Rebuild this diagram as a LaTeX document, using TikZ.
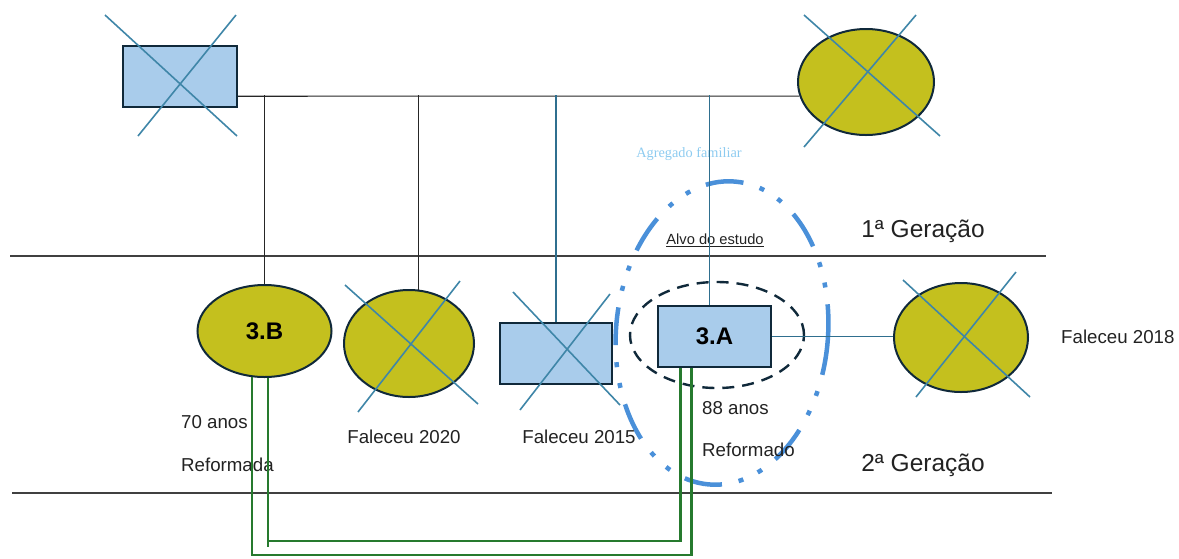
\documentclass[tikz,border=0pt]{standalone}
\usepackage{fontspec}
\setmainfont{Liberation Sans}
\newfontfamily\serifface{Liberation Serif}
\usetikzlibrary{shapes.geometric}
\definecolor{boxfill}{HTML}{A9CCEB}
\definecolor{ovalfill}{HTML}{C4C01E}
\definecolor{edge}{HTML}{10293A}
\definecolor{xline}{HTML}{3F86A8}
\definecolor{tealline}{HTML}{2F6F8F}
\definecolor{kin}{HTML}{267A2E}
\definecolor{household}{HTML}{4A90D9}
\definecolor{householdtxt}{HTML}{8DCBF0}
\definecolor{ink}{HTML}{222222}
\begin{document}
\begin{tikzpicture}[x=1pt,y=-1pt,
  male/.style={draw=edge, line width=2.4pt, fill=boxfill, rectangle, inner sep=0pt},
  female/.style={draw=edge, line width=2pt, fill=ovalfill, ellipse, inner sep=0pt},
  deadx/.style={xline, line width=1.6pt},
  tie/.style={line width=1.1pt, draw=black!85},
  tietl/.style={line width=1.1pt, draw=tealline},
  grn/.style={kin, line width=2.4pt},
  lbl/.style={text=ink, font=\fontsize{18.7}{22}\selectfont, inner sep=0pt},
  gen/.style={text=ink, font=\fontsize{24.5}{28}\selectfont, inner sep=0pt},
  idtxt/.style={font=\bfseries\fontsize{24}{28}\selectfont, text=black},
  genline/.style={line width=1.4pt, draw=black!75}
]
\useasboundingbox (0,0) rectangle (1179,558);

% generation separators
\coordinate (s1a) at (10,256);  \coordinate (s1b) at (1046,256);
\coordinate (s2a) at (12,493);  \coordinate (s2b) at (1052,493);
\draw[genline] (s1a) -- (s1b);
\draw[genline] (s2a) -- (s2b);
\node[gen] (g1) at (923,231) {1ª Geração};
\node[gen] (g2) at (923,465) {2ª Geração};

% household grouping
\node[draw=household, line width=4.5pt, ellipse, minimum width=212pt, minimum height=304pt,
      rotate=-5, dash pattern=on 38pt off 17pt on 5pt off 16pt on 5pt off 17pt] (agg) at (722,333) {};
\node[font=\serifface\fontsize{14.3}{17}\selectfont, text=householdtxt, inner sep=0pt] (aggtxt) at (689,154) {Agregado familiar};

% first generation
\node[male, minimum width=114pt, minimum height=61pt] (gf) at (180,76.5) {};
\node[female, minimum width=136pt, minimum height=106pt] (gm) at (866,82) {};

% second generation
\node[female, minimum width=134pt, minimum height=92pt, idtxt] (b3) at (264.5,331) {3.B};
\node[female, minimum width=130pt, minimum height=107pt] (s20) at (409,343.5) {};
\node[male, minimum width=112pt, minimum height=61pt] (s15) at (556,353.5) {};
\node[male, minimum width=113pt, minimum height=61pt, idtxt] (a3) at (714.5,336.5) {3.A};
\node[female, minimum width=134pt, minimum height=109pt] (w18) at (961,337.5) {};
\node[draw=edge, line width=2.4pt, ellipse, dash pattern=on 12pt off 8pt,
      minimum width=174pt, minimum height=106pt] (focus) at (717,335) {};
\node[font=\fontsize{14.7}{17}\selectfont, text=ink, inner sep=0pt] (alvo) at (715,240) {\underline{Alvo do estudo}};

% marriage bar and descent lines
\coordinate (bar) at (0,95);
\coordinate (a3top) at ([xshift=-5pt]a3.north);
\draw[tie] ([yshift=12pt]gf.south east) -- (gm.192);
\draw[tie] (bar -| b3.north) -- (b3.north);
\draw[tie] (bar -| s20.80) -- (s20.80);
\draw[tietl] (bar -| s15.north) -- (s15.north);
\draw[tietl] (bar -| a3top) -- (a3top);
\draw[tietl] (a3.east) -- (a3.east -| w18.west);

% deceased marks
\draw[deadx] (105,15) -- (237,136);  \draw[deadx] (138,136) -- (236,15);
\draw[deadx] (804,15) -- (940,136);  \draw[deadx] (804,147) -- (916,15);
\draw[deadx] (345,285) -- (478,404); \draw[deadx] (358,412) -- (460,281);
\draw[deadx] (513,292) -- (620,405); \draw[deadx] (520,410) -- (610,294);
\draw[deadx] (903,280) -- (1030,397); \draw[deadx] (916,397) -- (1016,272);

% annotations
\node[lbl, anchor=west] (ageb) at (181,422) {70 anos};
\node[lbl, anchor=west] (retb) at (181,465) {Reformada};
\node[lbl] (d20) at (404,437) {Faleceu 2020};
\node[lbl] (d15) at (579,437) {Faleceu 2015};
\node[lbl, anchor=west] (agea) at (702,408) {88 anos};
\node[lbl, anchor=west] (reta) at (702,450) {Reformado};
\node[lbl, anchor=west] (d18) at (1061,337) {Faleceu 2018};

% sibling links between 3.B and 3.A
\coordinate (bo) at (b3.255);
\coordinate (bi) at (b3.274);
\coordinate (ao) at ([xshift=-23pt]a3.south);
\coordinate (ai) at ([xshift=-34pt]a3.south);
\coordinate (low) at (0,555);
\coordinate (mid) at (0,541);
\coordinate (tail) at (0,547);
\draw[grn] (bo) -- (bo |- low) -- (ao |- low) -- (ao);
\draw[grn] (bi) -- (bi |- tail);
\draw[grn] (bi |- mid) -- (ai |- mid) -- (ai);
\end{tikzpicture}
\end{document}
